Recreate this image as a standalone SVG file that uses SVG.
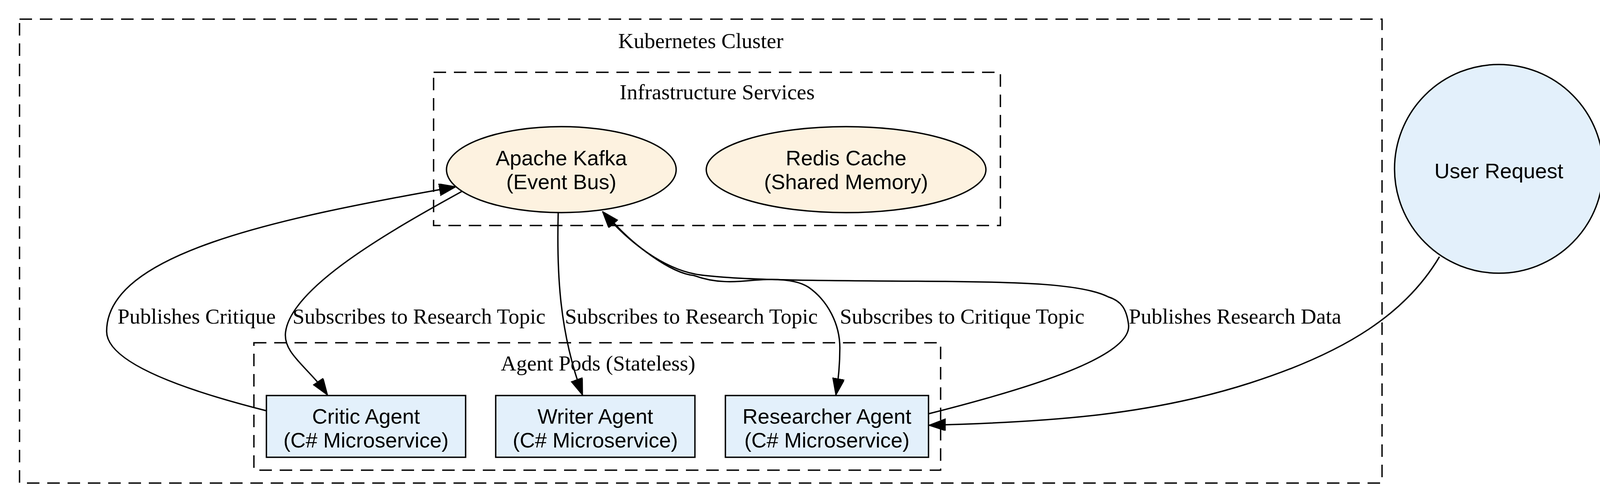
<svg xmlns="http://www.w3.org/2000/svg" width="4121" height="1287" viewBox="0 0 4121 1287">
<style>
.cl{fill:none;stroke:#000;stroke-width:3.5;stroke-dasharray:32,20}
.ct{font-family:"Liberation Serif",serif;font-size:55px;text-anchor:middle}
.el{font-family:"Liberation Serif",serif;font-size:55px}
.nt{font-family:"Liberation Sans",Arial,sans-serif;font-size:54px;text-anchor:middle}
.inf{fill:#fdf2e0;stroke:#000;stroke-width:3.5}
.ag{fill:#e3f0fb;stroke:#000;stroke-width:3.5}
.e{fill:none;stroke:#000;stroke-width:3.5;marker-end:url(#ah)}
</style>
<defs><marker id="ah" markerUnits="userSpaceOnUse" markerWidth="44" markerHeight="32" refX="42" refY="15" orient="auto"><path d="M0,0 L42,15 L0,30 z" fill="#000" stroke="#000" stroke-width="3"/></marker></defs>
<rect width="4121" height="1287" fill="#fff"/>
<g id="cluster-k8s"><rect class="cl" x="50" y="49" width="3488" height="1187"/><text class="ct" x="1794" y="123">Kubernetes Cluster</text></g>
<g id="cluster-infra"><rect class="cl" x="1110" y="185" width="1451" height="392"/><text class="ct" x="1836" y="254">Infrastructure Services</text></g>
<g id="cluster-agents"><rect class="cl" x="650" y="877" width="1758" height="326"/><text class="ct" x="1531" y="948">Agent Pods (Stateless)</text></g>
<g id="kafka"><ellipse class="inf" cx="1437" cy="434" rx="294" ry="110"/><text class="nt" x="1437" y="423">Apache Kafka</text><text class="nt" x="1437" y="484">(Event Bus)</text></g>
<g id="redis"><ellipse class="inf" cx="2166" cy="434" rx="358" ry="110"/><text class="nt" x="2166" y="423">Redis Cache</text><text class="nt" x="2166" y="484">(Shared Memory)</text></g>
<g id="user"><ellipse class="ag" cx="3837" cy="432" rx="267" ry="267"/><text class="nt" x="3837" y="456">User Request</text></g>
<g id="critic"><rect class="ag" x="682" y="1012" width="510" height="158"/><text class="nt" x="937" y="1084">Critic Agent</text><text class="nt" x="937" y="1145">(C# Microservice)</text></g>
<g id="writer"><rect class="ag" x="1269" y="1012" width="510" height="158"/><text class="nt" x="1524" y="1084">Writer Agent</text><text class="nt" x="1524" y="1145">(C# Microservice)</text></g>
<g id="researcher"><rect class="ag" x="1857" y="1012" width="520" height="158"/><text class="nt" x="2117" y="1084">Researcher Agent</text><text class="nt" x="2117" y="1145">(C# Microservice)</text></g>
<g id="edges">
<path class="e" d="M682,1051 C480,1000 273,930 273,848 C273,650 700,560 1166,478"/>
<path class="e" d="M1182,490 C1000,590 745,735 731,850 C724,905 790,940 838,1010"/>
<path class="e" d="M1429,544 C1425,700 1432,850 1491,1010"/>
<path class="e" d="M1550,546 C1620,630 1720,700 1777,705 C1830,725 1880,722 1930,717 C1990,712 2040,715 2070,735 C2120,770 2150,830 2150,890 C2150,940 2145,980 2140,1010"/>
<path class="e" d="M2376,1059 C2650,990 2900,910 2889,830 C2884,790 2870,770 2838,760 C2770,725 2600,722 2420,720 C2100,718 1900,718 1790,703 C1700,690 1610,620 1543,542"/>
<path class="e" d="M3685,657 C3600,800 3450,900 3200,980 C2950,1060 2700,1080 2379,1088"/>
<text class="el" x="301" y="828">Publishes Critique</text>
<text class="el" x="749" y="828">Subscribes to Research Topic</text>
<text class="el" x="1446" y="828">Subscribes to Research Topic</text>
<text class="el" x="2150" y="828">Subscribes to Critique Topic</text>
<text class="el" x="2890" y="828">Publishes Research Data</text>
</g>
</svg>
